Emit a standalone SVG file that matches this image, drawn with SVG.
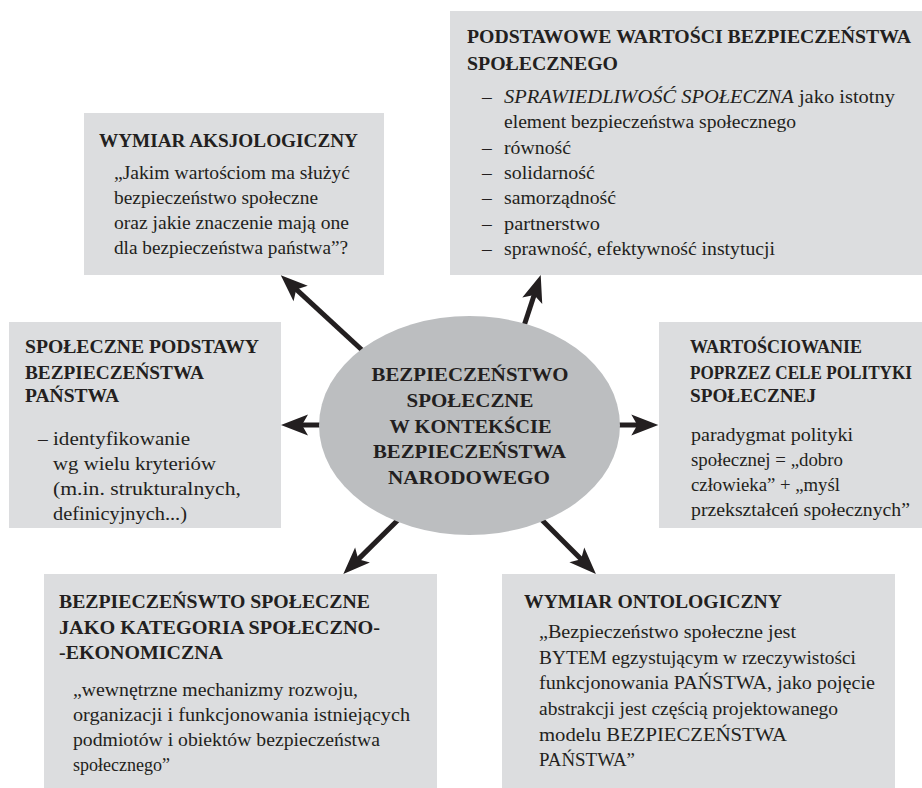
<svg xmlns="http://www.w3.org/2000/svg" width="922" height="788" viewBox="0 0 922 788">
<style>
  .box { fill: #dcdddf; }
  .ell { fill: #bcbec0; }
  text { font-family: "Liberation Serif", "Times New Roman", serif; fill: #231f20; }
  .t { font-size: 19.5px; font-weight: bold; }
  .b { font-size: 19.5px; }
  .c { font-size: 19px; font-weight: bold; text-anchor: middle; }
  .arr { stroke: #231f20; stroke-width: 5; fill: none; }
</style>
<defs>
  <marker id="ah" viewBox="-12 -12 32 24" markerWidth="32" markerHeight="24" refX="0" refY="0" orient="auto" markerUnits="userSpaceOnUse">
    <path d="M17,0 L-10,-10.5 L-4,0 L-10,10.5 Z" fill="#231f20"/>
  </marker>
</defs>

<g id="connectors">
  <line class="arr" x1="362" y1="350" x2="293.3" y2="286.7" marker-end="url(#ah)"/>
  <line class="arr" x1="521" y1="335" x2="535.4" y2="291.2" marker-end="url(#ah)"/>
  <line class="arr" x1="330" y1="425" x2="298" y2="425" marker-end="url(#ah)"/>
  <line class="arr" x1="610" y1="425" x2="641.3" y2="425" marker-end="url(#ah)"/>
  <line class="arr" x1="405" y1="513" x2="355.4" y2="562.1" marker-end="url(#ah)"/>
  <line class="arr" x1="535" y1="513" x2="583.9" y2="562" marker-end="url(#ah)"/>
</g>

<g id="center">
  <ellipse class="ell" cx="469.5" cy="425.5" rx="150.5" ry="109.5"/>
  <text class="c" x="470" y="381" textLength="197" lengthAdjust="spacingAndGlyphs">BEZPIECZEŃSTWO</text>
  <text class="c" x="470" y="407" textLength="127" lengthAdjust="spacingAndGlyphs">SPOŁECZNE</text>
  <text class="c" x="470.5" y="433" textLength="162" lengthAdjust="spacingAndGlyphs">W KONTEKŚCIE</text>
  <text class="c" x="469.5" y="458" textLength="193" lengthAdjust="spacingAndGlyphs">BEZPIECZEŃSTWA</text>
  <text class="c" x="469" y="483.5" textLength="162" lengthAdjust="spacingAndGlyphs">NARODOWEGO</text>
</g>

<g id="aksjologiczny">
  <rect class="box" x="84" y="113" width="300" height="162"/>
  <text class="t" x="99" y="147" textLength="259" lengthAdjust="spacingAndGlyphs">WYMIAR AKSJOLOGICZNY</text>
  <text class="b" x="114" y="179" textLength="236" lengthAdjust="spacingAndGlyphs">„Jakim wartościom ma służyć</text>
  <text class="b" x="114" y="204" textLength="204" lengthAdjust="spacingAndGlyphs">bezpieczeństwo społeczne</text>
  <text class="b" x="114" y="229" textLength="235" lengthAdjust="spacingAndGlyphs">oraz jakie znaczenie mają one</text>
  <text class="b" x="114" y="254" textLength="234" lengthAdjust="spacingAndGlyphs">dla bezpieczeństwa państwa”?</text>
</g>

<g id="wartosci">
  <rect class="box" x="450" y="11" width="472" height="264"/>
  <text class="t" x="467" y="43" textLength="444" lengthAdjust="spacingAndGlyphs">PODSTAWOWE WARTOŚCI BEZPIECZEŃSTWA</text>
  <text class="t" x="467" y="70" textLength="151" lengthAdjust="spacingAndGlyphs">SPOŁECZNEGO</text>
  <text class="b" x="482" y="103">–</text>
  <text class="b" x="504" y="103" textLength="391" lengthAdjust="spacingAndGlyphs"><tspan font-style="italic">SPRAWIEDLIWOŚĆ SPOŁECZNA</tspan> jako istotny</text>
  <text class="b" x="504" y="128.3" textLength="292" lengthAdjust="spacingAndGlyphs">element bezpieczeństwa społecznego</text>
  <text class="b" x="482" y="153.6">–</text>
  <text class="b" x="504" y="153.6" textLength="67" lengthAdjust="spacingAndGlyphs">równość</text>
  <text class="b" x="482" y="178.9">–</text>
  <text class="b" x="504" y="178.9" textLength="91" lengthAdjust="spacingAndGlyphs">solidarność</text>
  <text class="b" x="482" y="204.2">–</text>
  <text class="b" x="504" y="204.2" textLength="112" lengthAdjust="spacingAndGlyphs">samorządność</text>
  <text class="b" x="482" y="229.5">–</text>
  <text class="b" x="504" y="229.5" textLength="96" lengthAdjust="spacingAndGlyphs">partnerstwo</text>
  <text class="b" x="482" y="254.8">–</text>
  <text class="b" x="504" y="254.8" textLength="271" lengthAdjust="spacingAndGlyphs">sprawność, efektywność instytucji</text>
</g>

<g id="podstawy">
  <rect class="box" x="9" y="322" width="272" height="206"/>
  <text class="t" x="25" y="353" textLength="234" lengthAdjust="spacingAndGlyphs">SPOŁECZNE PODSTAWY</text>
  <text class="t" x="25" y="379" textLength="179" lengthAdjust="spacingAndGlyphs">BEZPIECZEŃSTWA</text>
  <text class="t" x="25" y="402" textLength="94" lengthAdjust="spacingAndGlyphs">PAŃSTWA</text>
  <text class="b" x="38" y="445">–</text>
  <text class="b" x="53" y="445" textLength="137" lengthAdjust="spacingAndGlyphs">identyfikowanie</text>
  <text class="b" x="53" y="470" textLength="163" lengthAdjust="spacingAndGlyphs">wg wielu kryteriów</text>
  <text class="b" x="53" y="495" textLength="188" lengthAdjust="spacingAndGlyphs">(m.in. strukturalnych,</text>
  <text class="b" x="53" y="520" textLength="134" lengthAdjust="spacingAndGlyphs">definicyjnych...)</text>
</g>

<g id="wartosciowanie">
  <rect class="box" x="659" y="322" width="263" height="206"/>
  <text class="t" x="690" y="353" textLength="172" lengthAdjust="spacingAndGlyphs">WARTOŚCIOWANIE</text>
  <text class="t" x="690" y="379" style="font-size:18px" textLength="222" lengthAdjust="spacingAndGlyphs">POPRZEZ CELE POLITYKI</text>
  <text class="t" x="690" y="402" textLength="126" lengthAdjust="spacingAndGlyphs">SPOŁECZNEJ</text>
  <text class="b" x="691" y="441" textLength="162" lengthAdjust="spacingAndGlyphs">paradygmat polityki</text>
  <text class="b" x="691" y="466" textLength="152" lengthAdjust="spacingAndGlyphs">społecznej = „dobro</text>
  <text class="b" x="691" y="491" textLength="149" lengthAdjust="spacingAndGlyphs">człowieka” + „myśl</text>
  <text class="b" x="691" y="516" textLength="219" lengthAdjust="spacingAndGlyphs">przekształceń społecznych”</text>
</g>

<g id="kategoria">
  <rect class="box" x="44" y="574" width="393" height="214"/>
  <text class="t" x="59" y="608" textLength="311" lengthAdjust="spacingAndGlyphs">BEZPIECZEŃSWTO SPOŁECZNE</text>
  <text class="t" x="59" y="634" textLength="321" lengthAdjust="spacingAndGlyphs">JAKO KATEGORIA SPOŁECZNO-</text>
  <text class="t" x="59" y="659" textLength="164" lengthAdjust="spacingAndGlyphs">-EKONOMICZNA</text>
  <text class="b" x="73" y="696" textLength="285" lengthAdjust="spacingAndGlyphs">„wewnętrzne mechanizmy rozwoju,</text>
  <text class="b" x="73" y="721" textLength="337" lengthAdjust="spacingAndGlyphs">organizacji i funkcjonowania istniejących</text>
  <text class="b" x="73" y="746" textLength="307" lengthAdjust="spacingAndGlyphs">podmiotów i obiektów bezpieczeństwa</text>
  <text class="b" x="73" y="771" textLength="97" lengthAdjust="spacingAndGlyphs">społecznego”</text>
</g>

<g id="ontologiczny">
  <rect class="box" x="502" y="574" width="393" height="214"/>
  <text class="t" x="524" y="608" textLength="258" lengthAdjust="spacingAndGlyphs">WYMIAR ONTOLOGICZNY</text>
  <text class="b" x="539" y="638" textLength="257" lengthAdjust="spacingAndGlyphs">„Bezpieczeństwo społeczne jest</text>
  <text class="b" x="539" y="664" textLength="317" lengthAdjust="spacingAndGlyphs">BYTEM egzystującym w rzeczywistości</text>
  <text class="b" x="539" y="689" textLength="336" lengthAdjust="spacingAndGlyphs">funkcjonowania PAŃSTWA, jako pojęcie</text>
  <text class="b" x="539" y="715" textLength="299" lengthAdjust="spacingAndGlyphs">abstrakcji jest częścią projektowanego</text>
  <text class="b" x="539" y="741" textLength="248" lengthAdjust="spacingAndGlyphs">modelu BEZPIECZEŃSTWA</text>
  <text class="b" x="539" y="766" textLength="96" lengthAdjust="spacingAndGlyphs">PAŃSTWA”</text>
</g>
</svg>
